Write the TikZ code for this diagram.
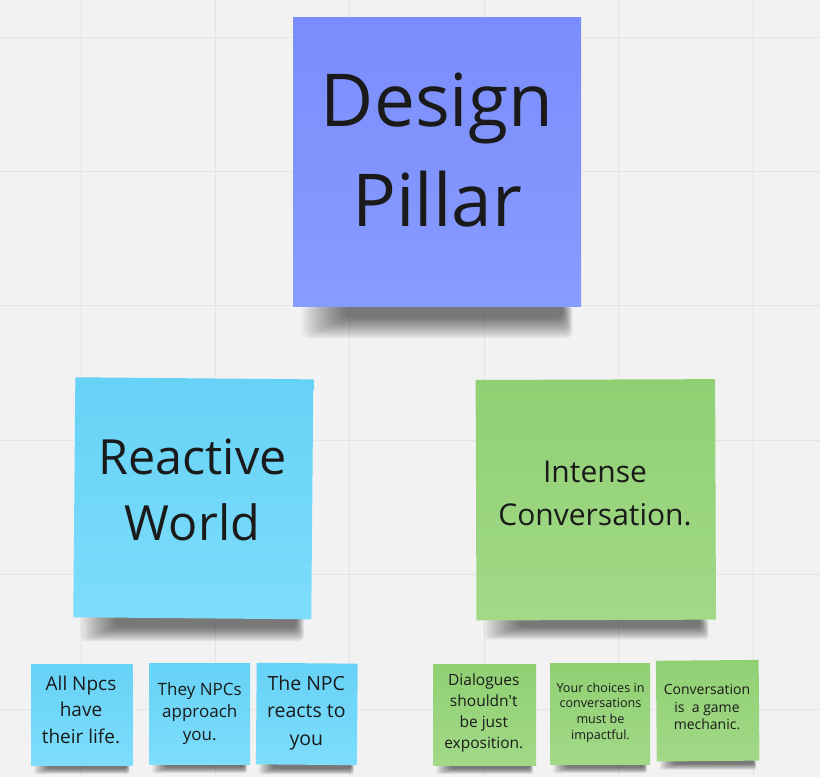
\documentclass[tikz,border=0pt]{standalone}
\usepackage{fontspec}
\setmainfont{Open Sans}
\usetikzlibrary{calc}

\definecolor{boardbg}{HTML}{F2F2F2}
\definecolor{gridline}{HTML}{E4E4E4}
\definecolor{ink}{HTML}{1A1A1A}
\definecolor{pillarTop}{HTML}{7A8DFC}
\definecolor{pillarBot}{HTML}{889BFF}
\definecolor{skyTop}{HTML}{66D2F6}
\definecolor{skyBot}{HTML}{7DDDFB}
\definecolor{leafTop}{HTML}{90D073}
\definecolor{leafBot}{HTML}{A2D987}

\pgfdeclarelayer{gridlayer}
\pgfdeclarelayer{shadowlayer}
\pgfsetlayers{gridlayer,shadowlayer,main}

\tikzset{
  note/.style={rectangle, inner sep=0pt, draw=none},
  pillarnote/.style={note, top color=pillarTop, bottom color=pillarBot},
  skynote/.style={note, top color=skyTop, bottom color=skyBot},
  leafnote/.style={note, top color=leafTop, bottom color=leafBot},
  notetext/.style={text=ink, align=center, inner sep=0pt},
}

% soft drop shadow under the bottom edge of a sticky note, built from
% stacked translucent bands: #1 note name, #2 note width, #3 shadow depth
\newcommand{\castshadow}[3]{%
  \begin{pgfonlayer}{shadowlayer}
    \pgfmathsetmacro{\shr}{0.2*#3}
    \foreach \k in {0,...,19}{
      \pgfmathsetmacro{\t}{\k/19}
      \fill[black, opacity=0.032, rounded corners=\shr pt]
        ($(#1.south west)+({(0.03+0.15*\t)*#2},-2)$) rectangle
        ($(#1.south east)+({-(0.03+0.035*\t)*#2},{#3*(1-0.65*\t)})$);
    }
  \end{pgfonlayer}}

\begin{document}
\begin{tikzpicture}[x=1pt, y=-1pt]
  % board with its grid
  \useasboundingbox (0,0) rectangle (820,777);
  \begin{pgfonlayer}{gridlayer}
    \fill[boardbg] (0,0) rectangle (820,777);
    \foreach \gx in {81,215.4,349.8,484.2,618.6,753}
      \draw[gridline, line width=1pt] (\gx,0) -- (\gx,777);
    \foreach \gy in {37,171.4,305.8,440.2,574.6,709}
      \draw[gridline, line width=1pt] (0,\gy) -- (820,\gy);
  \end{pgfonlayer}

  % top pillar
  \node[pillarnote, minimum width=288pt, minimum height=289pt] (design) at (437.2,161.7) {};
  \node[notetext, font=\fontsize{73}{100}\selectfont] (designtxt) at (437,150) {Design\\Pillar};

  % two main pillars
  \node[skynote, minimum width=238pt, minimum height=240pt, rotate=-0.5] (reactive) at (193.3,498.3) {};
  \node[notetext, font=\fontsize{48.5}{66.7}\selectfont] (reactivetxt) at (192.5,490) {Reactive\\World};

  \node[leafnote, minimum width=239.5pt, minimum height=240.5pt, rotate=0.2] (intense) at (595.8,499.8) {};
  \node[notetext, font=\fontsize{30}{42.3}\selectfont] (intensetxt) at (595,493.4) {Intense\\Conversation.};

  % reactive world details
  \node[skynote, minimum width=101.5pt, minimum height=101pt] (npcA) at (81.8,714.5) {};
  \node[notetext, font=\fontsize{19}{26.3}\selectfont] (npcAtxt) at (81,709.8) {All Npcs\\have\\their life.};

  \node[skynote, minimum width=100.7pt, minimum height=100.7pt] (npcB) at (199.7,713.7) {};
  \node[notetext, font=\fontsize{17}{22.8}\selectfont] (npcBtxt) at (199.7,713.4) {They NPCs\\approach\\you.};

  \node[skynote, minimum width=101pt, minimum height=101.5pt, rotate=-0.5] (npcC) at (306.8,714) {};
  \node[notetext, font=\fontsize{19.5}{27.5}\selectfont] (npcCtxt) at (306.3,712.5) {The NPC\\reacts to\\you};

  % intense conversation details
  \node[leafnote, minimum width=102.7pt, minimum height=101pt] (talkA) at (484.7,714.5) {};
  \node[notetext, font=\fontsize{15.5}{20.9}\selectfont] (talkAtxt) at (483.8,713) {Dialogues\\shouldn\textquotesingle t\\be just\\exposition.};

  \node[leafnote, minimum width=100pt, minimum height=100.7pt] (talkB) at (600,713.7) {};
  \node[notetext, font=\fontsize{12.6}{15.7}\selectfont] (talkBtxt) at (600.5,712.5) {Your choices in\\conversations\\must be\\impactful.};

  \node[leafnote, minimum width=102.7pt, minimum height=100.7pt, rotate=0.5] (talkC) at (707.7,710.7) {};
  \node[notetext, font=\fontsize{14}{17.8}\selectfont] (talkCtxt) at (707,707) {Conversation\\is\ \ a game\\mechanic.};

  % shadows
  \castshadow{design}{288}{32}
  \castshadow{reactive}{238}{22}
  \castshadow{intense}{239.5}{20}
  \castshadow{npcA}{101.5}{9}
  \castshadow{npcB}{100.7}{9}
  \castshadow{npcC}{101}{9}
  \castshadow{talkA}{102.7}{9}
  \castshadow{talkB}{100}{9}
  \castshadow{talkC}{102.7}{9}
\end{tikzpicture}
\end{document}
